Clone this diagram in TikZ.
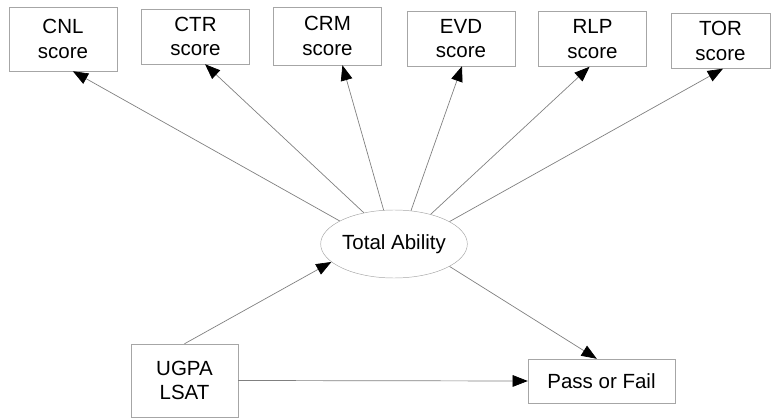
\documentclass[tikz,border=0pt]{standalone}
\usepackage{fontspec}
\setmainfont{Liberation Sans}
\usetikzlibrary{arrows.meta, shapes.geometric}

\begin{document}
\begin{tikzpicture}[x=0.3mm, y=-0.3mm,
  box/.style={draw=gray!70, rectangle, align=center, inner sep=0pt,
    minimum width=3.24cm, minimum height=1.65cm, font=\fontsize{17.5}{21}\selectfont},
  link/.style={draw=gray, line width=0.6pt,
    -{Triangle[length=13pt, width=10pt, color=black]}}]
\useasboundingbox (0,0) rectangle (771,418);

% Score boxes along the top
\node[box, minimum height=1.92cm] (cnl) at (63,39) {CNL\\score};
\node[box] (ctr) at (195.5,36.5) {CTR\\score};
\node[box, minimum height=1.74cm] (crm) at (327.5,36) {CRM\\score};
\node[box] (evd) at (461,38.5) {EVD\\score};
\node[box] (rlp) at (592.5,39) {RLP\\score};
\node[box, minimum width=2.97cm] (tor) at (720.5,41) {TOR\\score};

% Latent ability
\node[ellipse, draw=gray!70, inner sep=0pt, minimum width=4.02cm, minimum height=2.04cm,
  font=\fontsize{17.5}{21}\selectfont] (ability) at (394,244) {Total Ability};

% Predictors and outcome
\node[box, minimum width=3.21cm, minimum height=2.19cm] (ugpa) at (184.5,380.5) {UGPA\\LSAT};
\node[box, minimum width=4.41cm, minimum height=1.32cm] (pass) at (601.5,381) {Pass or Fail};

\foreach \s/\a/\b in {cnl/157/-73, ctr/134/-71, crm/107/-63, evd/63/-88, rlp/39/-96, tor/22/-85}
  \draw[link] (ability.\a) -- (\s.\b);

\draw[link] (ugpa.north) -- (ability.196);
\draw[link] (ability.-22) -- (pass.102);
\draw[link] (ugpa.east) -- (pass.west);
\end{tikzpicture}
\end{document}
